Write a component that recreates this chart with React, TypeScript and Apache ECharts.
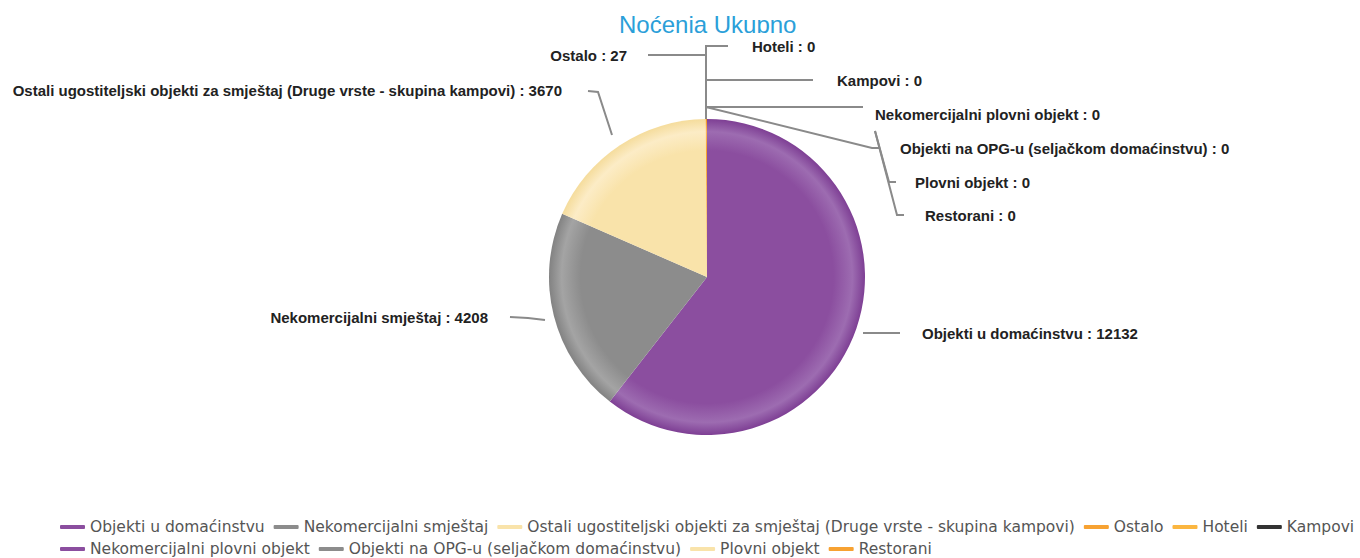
import React, { useEffect, useRef } from "react";
import * as echarts from "echarts";

const TITLE = "Noćenja Ukupno";
const CATEGORIES = [
  "Objekti u domaćinstvu",
  "Nekomercijalni smještaj",
  "Ostali ugostiteljski objekti za smještaj (Druge vrste - skupina kampovi)",
  "Ostalo",
  "Hoteli",
  "Kampovi",
  "Nekomercijalni plovni objekt",
  "Objekti na OPG-u (seljačkom domaćinstvu)",
  "Plovni objekt",
  "Restorani",
];
const VALUES = [12132, 4208, 3670, 27, 0, 0, 0, 0, 0, 0];
const COLORS = ["#8b4e9f", "#8c8c8c", "#f9e3aa", "#f7a232", "#fbb640", "#333333", "#8b4e9f", "#8c8c8c", "#f9e3aa", "#f7a232"];
const LIGHT = ["#9d6cb1", "#a4a4a4", "#fcecc6", "#f9b55c", "#fcc66a", "#555555", "#9d6cb1", "#a4a4a4", "#fcecc6", "#f9b55c"];
const EDGE = ["#7e3f94", "#828282", "#f5dc9c", "#ee9420", "#f0a830", "#222222", "#7e3f94", "#828282", "#f5dc9c", "#ee9420"];
const LEGEND_ROW1 = 6; // number of legend entries on the first row

// layout of labels (text anchor x, y, alignment, connector points)
const CX = 707;
const CY = 277;
const R = 158;
const LABEL_LAYOUT: { x: number; y: number; align: string; pts: number[][] }[] = [
  { x: 922, y: 333, align: "left", pts: [[863, 333], [880, 333], [900, 333]] },
  { x: 488, y: 317, align: "right", pts: [[545, 320], [528, 318], [510, 317]] },
  { x: 562, y: 90, align: "right", pts: [[612, 135], [598, 92], [588, 91]] },
  { x: 627, y: 55, align: "right", pts: [[706, 119], [706, 55], [648, 55]] },
  { x: 752, y: 46, align: "left", pts: [[706, 119], [706, 46], [728, 46]] },
  { x: 837, y: 80, align: "left", pts: [[706, 119], [706, 80], [813, 80]] },
  { x: 875, y: 114, align: "left", pts: [[706, 119], [706, 107], [863, 107]] },
  { x: 900, y: 148, align: "left", pts: [[706, 113], [706, 107], [872, 148], [879, 148]] },
  { x: 915, y: 182, align: "left", pts: [[875, 131], [889, 182], [896, 182]] },
  { x: 925, y: 215, align: "left", pts: [[875, 131], [897, 215], [904, 215]] },
];
const FONT = "Liberation Sans, Arial, sans-serif";

export default function App() {
  const ref = useRef<HTMLDivElement>(null);
  useEffect(() => {
    document.body.style.margin = "0";
    const chart = echarts.init(ref.current!, null, { renderer: "svg" });
    const data = CATEGORIES.map((name, i) => ({
      name,
      value: VALUES[i],
      itemStyle: {
        color: {
          type: "radial",
          x: CX,
          y: CY,
          r: R,
          global: true,
          colorStops: [
            { offset: 0, color: COLORS[i] },
            { offset: 0.8, color: COLORS[i] },
            { offset: 0.92, color: LIGHT[i] },
            { offset: 1, color: EDGE[i] },
          ],
        },
      },
    }));
    const legendBase = {
      left: 55,
      width: 1320,
      icon: "roundRect",
      itemWidth: 25,
      itemHeight: 4,
      itemGap: 9,
      textStyle: { fontSize: 15.5, color: "#555", fontFamily: "DejaVu Sans, sans-serif" },
    };
    const legendItems = CATEGORIES.map((name, i) => ({ name, itemStyle: { color: COLORS[i] } }));
    chart.setOption({
      animation: false,
      title: {
        text: TITLE,
        left: 614,
        top: 7,
        textStyle: { color: "#2b9fd9", fontSize: 24, fontWeight: "normal", fontFamily: FONT },
      },
      graphic: [
        { type: "rect", left: 600, top: 33, shape: { width: 220, height: 8 }, style: { fill: "#fff" }, z: 100 },
      ],
      legend: [
        { ...legendBase, top: 514, data: legendItems.slice(0, LEGEND_ROW1) },
        { ...legendBase, top: 536, data: legendItems.slice(LEGEND_ROW1) },
      ],
      series: [
        {
          type: "pie",
          center: [CX, CY],
          radius: R,
          startAngle: 90,
          clockwise: true,
          avoidLabelOverlap: false,
          minShowLabelAngle: 0,
          data,
          label: {
            show: true,
            position: "outside",
            formatter: "{b} : {c}",
            fontSize: 15,
            fontWeight: "bold",
            color: "#222",
            fontFamily: FONT,
          },
          labelLine: { show: true, lineStyle: { color: "#8a8a8a", width: 2 } },
          labelLayout: (params: any) => {
            const l = LABEL_LAYOUT[params.dataIndex];
            return {
              x: l.x,
              y: l.y,
              align: l.align,
              verticalAlign: "middle",
              labelLinePoints: l.pts,
            };
          },
          emphasis: { disabled: true },
        },
      ],
    });
    return () => chart.dispose();
  }, []);
  return <div ref={ref} style={{ position: "absolute", left: 0, top: 0, width: 1360, height: 558 }} />;
}
